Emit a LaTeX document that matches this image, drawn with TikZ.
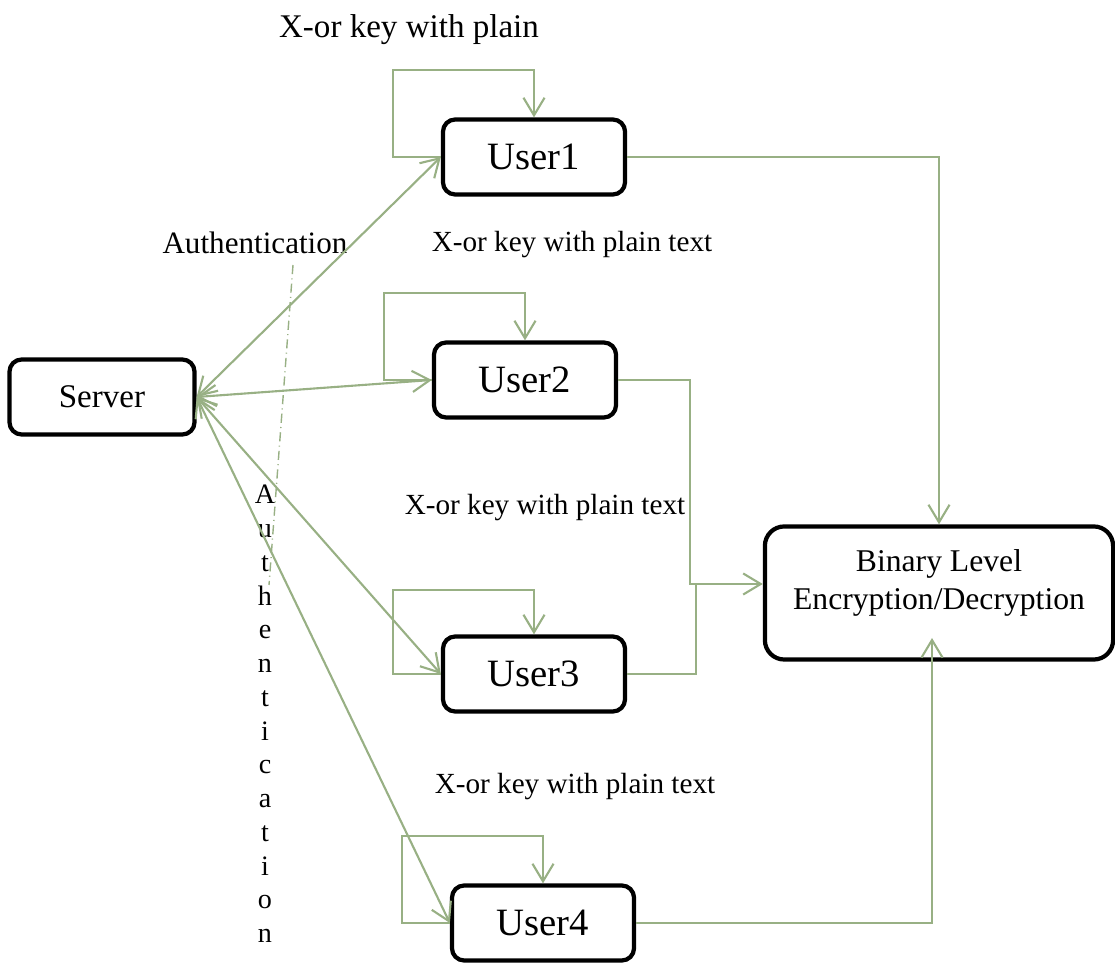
\documentclass[tikz,border=0pt]{standalone}
\usepackage{fontspec}
\setmainfont{Liberation Serif}
\usetikzlibrary{arrows.meta}

\definecolor{linkgreen}{RGB}{152,176,132}

\begin{document}
\begin{tikzpicture}[x=0.01cm, y=-0.01cm, >={Straight Barb[length=5pt,width=6pt]},
                    semithick]
    \tikzstyle{box}=[draw=black, line width=1.2pt, rounded corners=3.5pt,
                     minimum height=0.75cm, inner sep=0pt]
    \tikzstyle{user}=[box, minimum width=1.82cm, font=\fontsize{11}{13}\selectfont]
    \tikzstyle{flow}=[->, draw=linkgreen, line width=0.6pt]
    \tikzstyle{auth}=[<->, draw=linkgreen, line width=0.6pt]
    \tikzstyle{note}=[inner sep=0pt, font=\fontsize{8.3}{10}\selectfont]

    \useasboundingbox (0,0) rectangle (1115,968);

    \node[box, minimum width=1.85cm, font=\fontsize{9.4}{11}\selectfont] (srv) at (102,397) {Server};
    \node[user] (u1) at (534,157) {User1};
    \node[user] (u2) at (525,380) {User2};
    \node[user] (u3) at (534,674) {User3};
    \node[user] (u4) at (543,923) {User4};
    \node[box, minimum width=3.48cm, minimum height=1.33cm, rounded corners=5.5pt] (bin) at (939,593) {};
    \node[note, align=center, font=\fontsize{9}{11}\selectfont] (bintext) at (939,583)
        {Binary Level\\Encryption/Decryption};

    % labels
    \node[note, font=\fontsize{9.4}{11}\selectfont] (toplbl) at (409,30) {X-or key with plain};
    \node[note, font=\fontsize{8.85}{11}\selectfont] (authlbl) at (255,243) {Authentication};
    \node[note] (xor1) at (572,245) {X-or key with plain text};
    \node[note] (xor2) at (545,508) {X-or key with plain text};
    \node[note] (xor3) at (575,787) {X-or key with plain text};
    \node[note, align=center, font=\fontsize{8}{9.6}\selectfont] (vauth) at (265,714)
        {A\\u\\t\\h\\e\\n\\t\\i\\c\\a\\t\\i\\o\\n};

    % self loops
    \draw[flow] (u1.west) -- ++(-48,0) |- ([yshift=13.4pt]u1.north) -- (u1.north);
    \draw[flow] (u2.west) -- ++(-48,0) |- ([yshift=13.4pt]u2.north) -- (u2.north);
    \draw[flow] (u3.west) -- ++(-48,0) |- ([yshift=12.5pt]u3.north) -- (u3.north);
    \draw[flow] (u4.west) -- ++(-48,0) |- ([yshift=13.4pt]u4.north) -- (u4.north);

    % server links
    \draw[auth] (srv.east) -- (u1.west);
    \draw[auth] (srv.east) -- (u2.west);
    \draw[auth] (srv.east) -- (u3.west);
    \draw[auth] (srv.east) -- (u4.west);

    \coordinate (a1) at (293,265);
    \coordinate (a2) at (269,585);
    \draw[linkgreen, line width=0.4pt, dash pattern=on 2.6pt off 1.2pt on 0.3pt off 1.2pt] (a1) -- (a2);

    % to binary level box
    \coordinate (j2) at (690,584);
    \coordinate (j3) at (696,584);
    \coordinate (b4) at (932,638);
    \draw[flow] (u1.east) -| (bin.north);
    \draw[flow] (u2.east) -| (j2) -- (j2 -| bin.west);
    \draw[linkgreen, line width=0.6pt] (u3.east) -| (j3);
    \draw[flow] (u4.east) -| (b4);
\end{tikzpicture}
\end{document}
